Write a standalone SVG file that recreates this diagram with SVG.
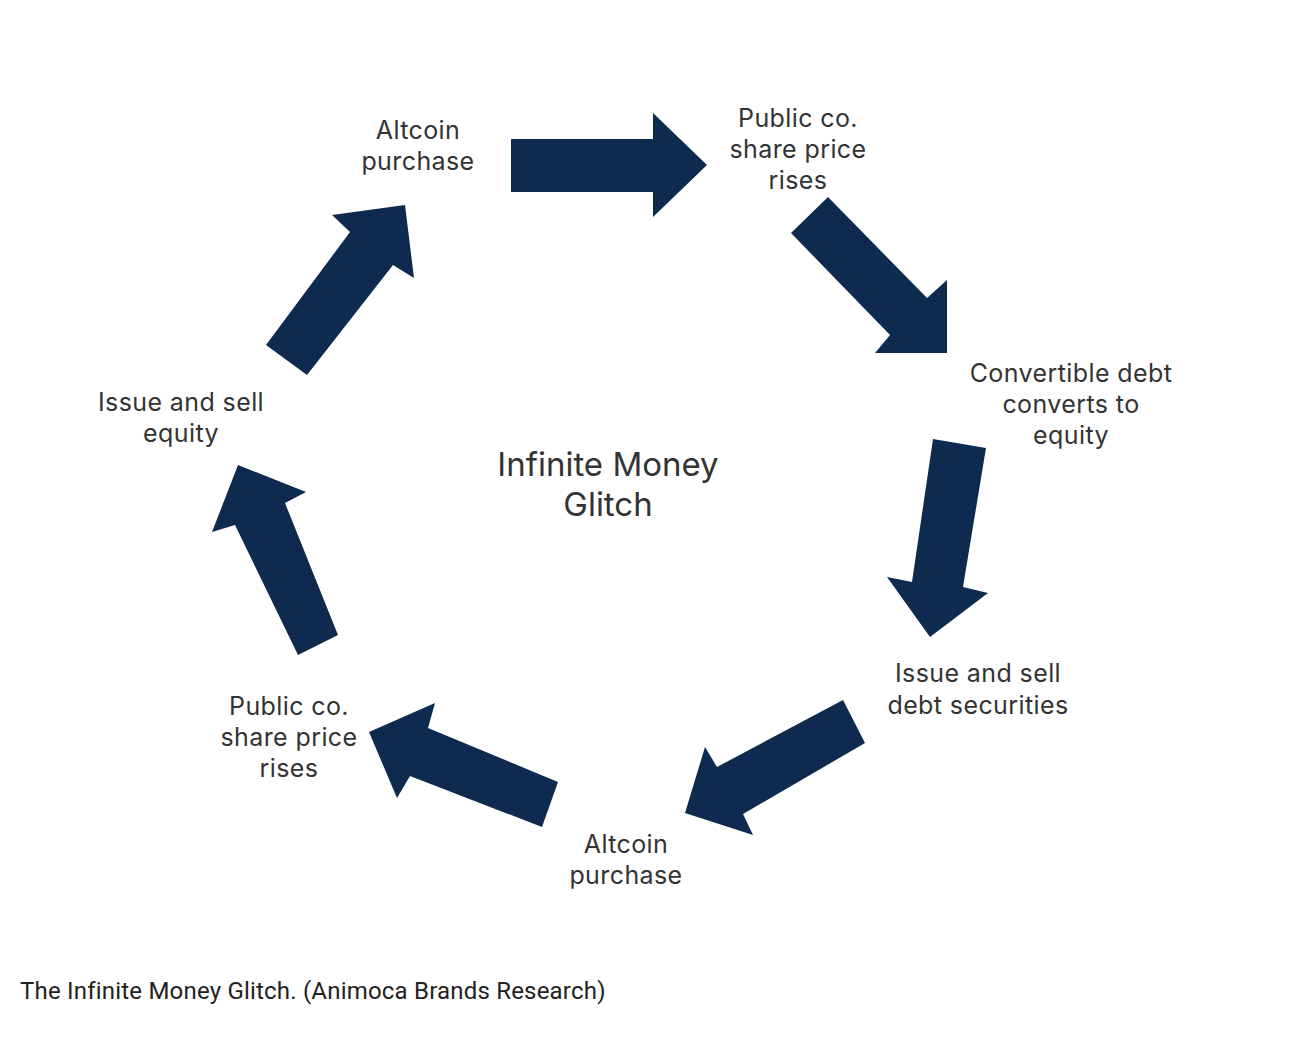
<svg xmlns="http://www.w3.org/2000/svg" width="1294" height="1038" viewBox="0 0 1294 1038">
<style>
.arrow{fill:#0e2a4f}
.lbl{font-family:Inter,"Noto Sans","Liberation Sans",sans-serif;font-size:25px;letter-spacing:0.4px;fill:#333;text-anchor:middle}
.title{font-family:Inter,"Noto Sans","Liberation Sans",sans-serif;font-size:33px;fill:#333;text-anchor:middle}
.cap{font-family:Roboto,"Liberation Sans",sans-serif;font-size:24px;letter-spacing:0.2px;fill:#222}
</style>
<rect width="1294" height="1038" fill="#fff"/>
<g id="connectors">
<polygon class="arrow" points="511,139 653,139 653,113 707,165 653,217 653,192 511,192"/>
<polygon class="arrow" points="828,197 927,298 947,280 947,353 875,353 890,335 791,233"/>
<polygon class="arrow" points="933,439 986,448 963,587 988,593 930,637 887,577 912,582"/>
<polygon class="arrow" points="843,700 865,743 743,814 753,835 685,813 705,747 717,767"/>
<polygon class="arrow" points="428,728 558,782 542,827 410,776 397,798 369,732 435,703"/>
<polygon class="arrow" points="238,465 306,492 285,503 338,635 298,655 235,525 212,532"/>
<polygon class="arrow" points="405,205 414,278 393,265 307,375 266,345 350,232 332,215"/>
</g>
<g id="n-altcoin-top"><text class="lbl" x="418" y="139">Altcoin</text><text class="lbl" x="418" y="170">purchase</text></g>
<g id="n-share-top"><text class="lbl" x="798" y="127">Public co.</text><text class="lbl" x="798" y="158">share price</text><text class="lbl" x="798" y="189">rises</text></g>
<g id="n-convertible"><text class="lbl" x="1071" y="382">Convertible debt</text><text class="lbl" x="1071" y="413">converts to</text><text class="lbl" x="1071" y="444">equity</text></g>
<g id="n-debt"><text class="lbl" x="978" y="682">Issue and sell</text><text class="lbl" x="978" y="714">debt securities</text></g>
<g id="n-altcoin-bottom"><text class="lbl" x="626" y="853">Altcoin</text><text class="lbl" x="626" y="884">purchase</text></g>
<g id="n-share-bottom"><text class="lbl" x="289" y="715">Public co.</text><text class="lbl" x="289" y="746">share price</text><text class="lbl" x="289" y="777">rises</text></g>
<g id="n-equity"><text class="lbl" x="181" y="411">Issue and sell</text><text class="lbl" x="181" y="442">equity</text></g>
<g id="n-center"><text class="title" x="608" y="476">Infinite Money</text><text class="title" x="608" y="516">Glitch</text></g>
<text class="cap" x="20" y="999">The Infinite Money Glitch. (Animoca Brands Research)</text>
</svg>
